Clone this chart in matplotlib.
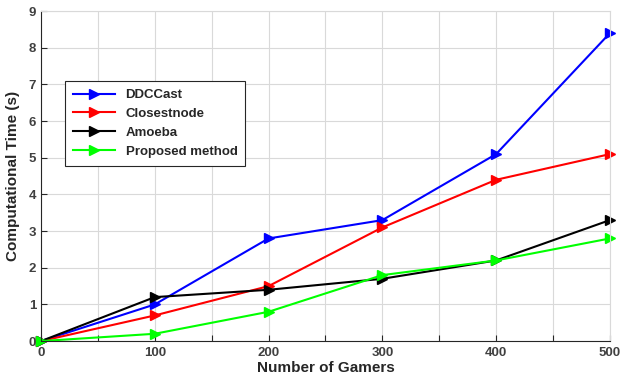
import numpy as np
import matplotlib.pyplot as plt

gamers = [0, 100, 200, 300, 400, 500]
ddccast = [0, 1.0, 2.8, 3.3, 5.1, 8.4]
closestnode = [0, 0.7, 1.5, 3.1, 4.4, 5.1]
amoeba = [0, 1.2, 1.4, 1.7, 2.2, 3.3]
proposed = [0, 0.2, 0.8, 1.8, 2.2, 2.8]

plt.rcParams['font.family'] = ['Liberation Sans', 'DejaVu Sans']
plt.rcParams['font.weight'] = 'bold'

fig = plt.figure(figsize=(6.21, 3.85), dpi=100)
ax = fig.add_axes([0.066, 0.114, 0.916, 0.857])

series = [(ddccast, '#0000ff', 'DDCCast'),
          (closestnode, '#ff0000', 'Closestnode'),
          (amoeba, '#000000', 'Amoeba'),
          (proposed, '#00ff00', 'Proposed method')]
for ys, c, name in series:
    ax.plot(gamers, ys, color=c, marker='>', markersize=7, lw=1.5, label=name, clip_on=False)

ax.set_xlim(0, 500)
ax.set_ylim(0, 9)
ax.set_xticks(np.arange(0, 501, 50))
ax.set_xticklabels([str(v) if v % 100 == 0 else '' for v in range(0, 501, 50)])
ax.set_yticks(range(0, 10))
ax.grid(True, color='#d9d9d9', lw=0.8)
ax.set_axisbelow(True)
for s in ['top', 'right']:
    ax.spines[s].set_color('#d9d9d9')
for s in ['left', 'bottom']:
    ax.spines[s].set_color('#262626')
ax.tick_params(colors='#262626', labelcolor='#404040', labelsize=9.5, length=4, direction='in')
ax.tick_params(axis='x', pad=4)
ax.set_xlabel('Number of Gamers', fontsize=11, fontweight='bold', color='#262626', labelpad=2)
ax.set_ylabel('Computational Time (s)', fontsize=11, fontweight='bold', color='#262626', labelpad=6)

leg = ax.legend(loc='upper left', bbox_to_anchor=(0.042, 0.788), borderaxespad=0, fontsize=9.5,
                fancybox=False, edgecolor='#262626', framealpha=1, handlelength=3.2,
                borderpad=0.6, labelspacing=0.5)
for t in leg.get_texts():
    t.set_color('#262626')
leg.get_frame().set_linewidth(0.8)

fig.savefig('out.png', dpi=100)
